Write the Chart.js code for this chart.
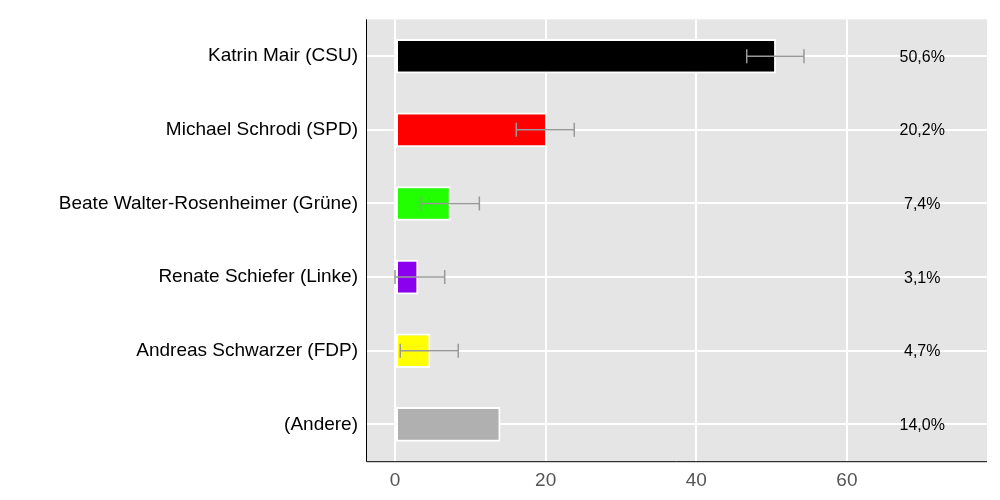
<!DOCTYPE html>
<html>
<head>
<meta charset="utf-8">
<script src="https://cdn.jsdelivr.net/npm/chart.js@4"></script>
<style>
  html, body { margin: 0; padding: 0; background: #fff; }
  #wrap { width: 1000px; height: 500px; }
</style>
</head>
<body>
<div id="wrap"><canvas id="c"></canvas></div>
<script>
const candidates = ['Katrin Mair (CSU)', 'Michael Schrodi (SPD)', 'Beate Walter-Rosenheimer (Grüne)',
  'Renate Schiefer (Linke)', 'Andreas Schwarzer (FDP)', '(Andere)'];
const shares = [50.6, 20.2, 7.4, 3.1, 4.7, 14.0];
const errLow = [46.7, 16.1, 3.5, 0.0, 0.7, null];
const errHigh = [54.3, 23.8, 11.2, 6.6, 8.4, null];
const shareLabels = ['50,6%', '20,2%', '7,4%', '3,1%', '4,7%', '14,0%'];
const colors = ['#000000', '#ff0000', '#22ff00', '#8b00ee', '#ffff00', '#b0b0b0'];
const labelX = 70;

// Error bars and value labels drawn on top of the bars
const extras = {
  id: 'extras',
  afterDatasetsDraw(chart) {
    const { ctx, scales: { x, y } } = chart;
    ctx.save();
    ctx.strokeStyle = '#999';
    ctx.lineWidth = 1.5;
    candidates.forEach((_, i) => {
      if (errLow[i] == null) return;
      const yy = y.getPixelForValue(i);
      const x1 = x.getPixelForValue(errLow[i]);
      const x2 = x.getPixelForValue(errHigh[i]);
      ctx.beginPath();
      ctx.moveTo(x1, yy); ctx.lineTo(x2, yy);
      ctx.moveTo(x1, yy - 7); ctx.lineTo(x1, yy + 7);
      ctx.moveTo(x2, yy - 7); ctx.lineTo(x2, yy + 7);
      ctx.stroke();
    });
    ctx.fillStyle = '#000';
    ctx.font = '16px "Liberation Sans", Arial, sans-serif';
    ctx.textAlign = 'center';
    ctx.textBaseline = 'middle';
    shareLabels.forEach((t, i) => {
      ctx.fillText(t, x.getPixelForValue(labelX), y.getPixelForValue(i) + 1);
    });
    ctx.restore();
  }
};

const bgPlugin = {
  id: 'bg',
  beforeDraw(chart) {
    const { ctx, chartArea: a } = chart;
    ctx.save();
    ctx.fillStyle = '#e5e5e5';
    ctx.fillRect(a.left, a.top, a.right - a.left, a.bottom - a.top);
    ctx.restore();
  },
  afterDraw(chart) {
    const { ctx, chartArea: a } = chart;
    ctx.save();
    ctx.strokeStyle = '#000';
    ctx.lineWidth = 1;
    ctx.beginPath();
    ctx.moveTo(a.left + 0.5, a.top);
    ctx.lineTo(a.left + 0.5, a.bottom + 0.5);
    ctx.lineTo(a.right, a.bottom + 0.5);
    ctx.stroke();
    ctx.restore();
  }
};

new Chart(document.getElementById('c'), {
  type: 'bar',
  data: {
    labels: candidates,
    datasets: [{
      data: shares,
      backgroundColor: colors,
      borderColor: '#ffffff',
      borderWidth: 2,
      borderSkipped: false,
      barPercentage: 0.47,
      categoryPercentage: 1
    }]
  },
  options: {
    indexAxis: 'y',
    responsive: true,
    maintainAspectRatio: false,
    animation: false,
    layout: { padding: { top: 10, right: 13, bottom: 0, left: 0 } },
    plugins: { legend: { display: false }, tooltip: { enabled: false } },
    scales: {
      x: {
        min: -3.85, max: 78.6,
        afterBuildTicks: axis => { axis.ticks = [0, 20, 40, 60].map(v => ({ value: v })); },
        grid: { color: '#ffffff', lineWidth: 2, drawTicks: false },
        border: { display: false },
        ticks: { color: '#555', padding: 8, font: { size: 19, family: '"Liberation Sans", Arial, sans-serif' } }
      },
      y: {
        offset: true,
        afterFit: axis => { axis.width = 366; },
        grid: { color: '#ffffff', lineWidth: 2, offset: false, drawTicks: false },
        border: { display: false },
        ticks: { color: '#000', padding: 8, font: { size: 19, family: '"Liberation Sans", Arial, sans-serif' } }
      }
    }
  },
  plugins: [bgPlugin, extras]
});
</script>
</body>
</html>
